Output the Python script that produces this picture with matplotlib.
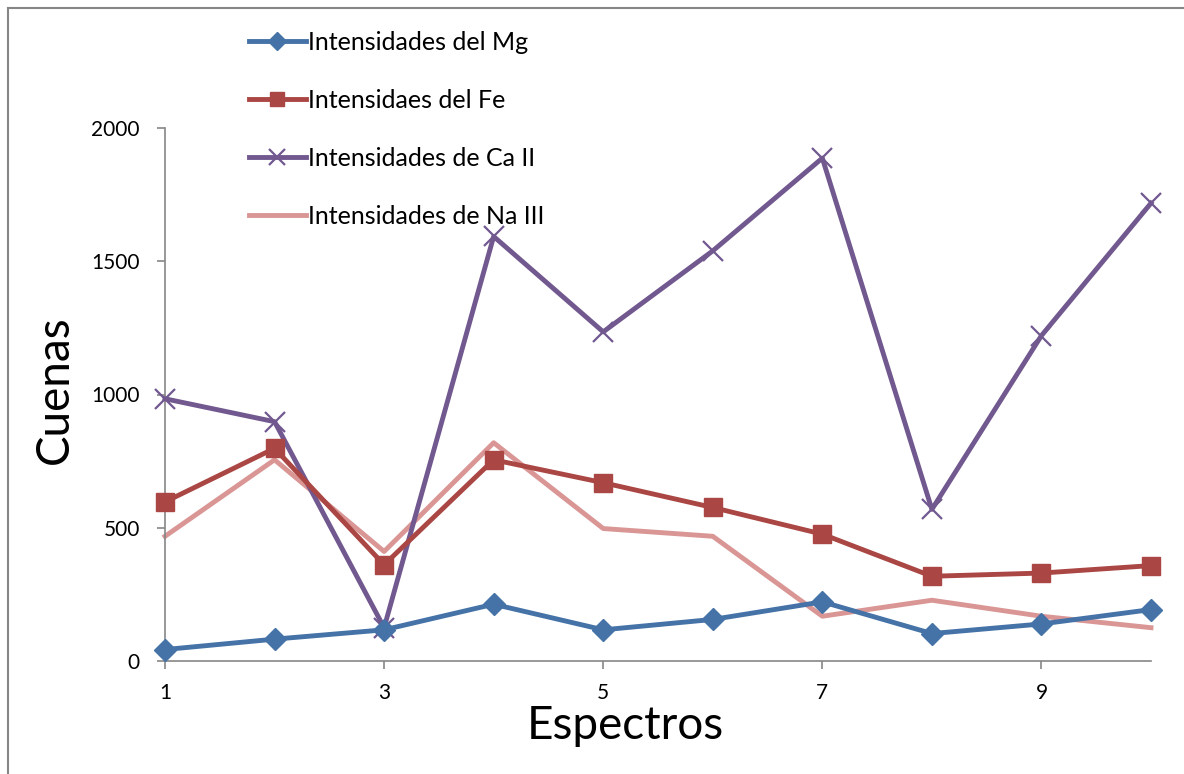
import matplotlib
matplotlib.use("Agg")
import matplotlib.pyplot as plt
from matplotlib.lines import Line2D

plt.rcParams['font.family'] = ['Lato', 'DejaVu Sans']

# datos
espectros = [1, 2, 3, 4, 5, 6, 7, 8, 9, 10]
mg = [43, 82, 117, 213, 117, 156, 222, 103, 139, 193]
fe = [597, 798, 361, 755, 669, 576, 476, 318, 330, 358]
ca = [984, 898, 125, 1593, 1235, 1539, 1887, 569, 1221, 1718]
na = [468, 755, 411, 819, 497, 468, 168, 228, 168, 125]

etiquetas = ['Intensidades del Mg', 'Intensidaes del Fe',
             'Intensidades de Ca II', 'Intensidades de Na III']
colores = ['#4572A7', '#AA4643', '#71588F', '#D99694']

fig = plt.figure(figsize=(11.84, 7.74), dpi=100)
ax = fig.add_axes([165 / 1184, 1 - 661 / 774, (1151 - 165) / 1184, (661 - 128) / 774])

lw = 3.5
ax.plot(espectros, mg, color=colores[0], lw=lw, marker='D', ms=11,
        label=etiquetas[0], clip_on=False, zorder=5)
ax.plot(espectros, fe, color=colores[1], lw=lw, marker='s', ms=13,
        label=etiquetas[1], clip_on=False, zorder=4)
ax.plot(espectros, ca, color=colores[2], lw=lw, marker='x', ms=14, mew=1.6,
        label=etiquetas[2], clip_on=False, zorder=3)
ax.plot(espectros, na, color=colores[3], lw=lw,
        label=etiquetas[3], clip_on=False, zorder=2)

ax.set_xlim(1, 10)
ax.set_ylim(0, 2000)
ax.set_xticks([1, 3, 5, 7, 9])
ax.set_yticks([0, 500, 1000, 1500, 2000])
ax.tick_params(labelsize=15, color='#868686', length=6, width=1.2, direction='out')
ax.tick_params(axis='x', pad=10)
ax.tick_params(axis='y', pad=12)

for s in ['top', 'right']:
    ax.spines[s].set_visible(False)
for s in ['left', 'bottom']:
    ax.spines[s].set_color('#868686')
    ax.spines[s].set_linewidth(1.2)

ax.set_ylabel('Cuenas', fontsize=33, va='center', ha='center')
ax.yaxis.set_label_coords((55 - 165) / 986, (661 - 390) / 533)
ax.set_xlabel('Espectros', fontsize=33, va='center', ha='center')
ax.xaxis.set_label_coords((625 - 165) / 986, (661 - 726) / 533)

leg = ax.legend(loc='upper left', bbox_to_anchor=(226 / 1184, 1 - 8 / 774),
                bbox_transform=fig.transFigure, frameon=False, fontsize=18,
                labelspacing=1.4, handlelength=2.3, handletextpad=0.1,
                markerscale=0.8)

# borde del area del grafico (solo izquierda y arriba visibles)
fig.add_artist(Line2D([8 / 1184, 8 / 1184], [0, 1 - 8 / 774],
                      transform=fig.transFigure, color='#868686', lw=1.5))
fig.add_artist(Line2D([8 / 1184, 1], [1 - 8 / 774, 1 - 8 / 774],
                      transform=fig.transFigure, color='#868686', lw=1.5))

plt.savefig('out.png')
